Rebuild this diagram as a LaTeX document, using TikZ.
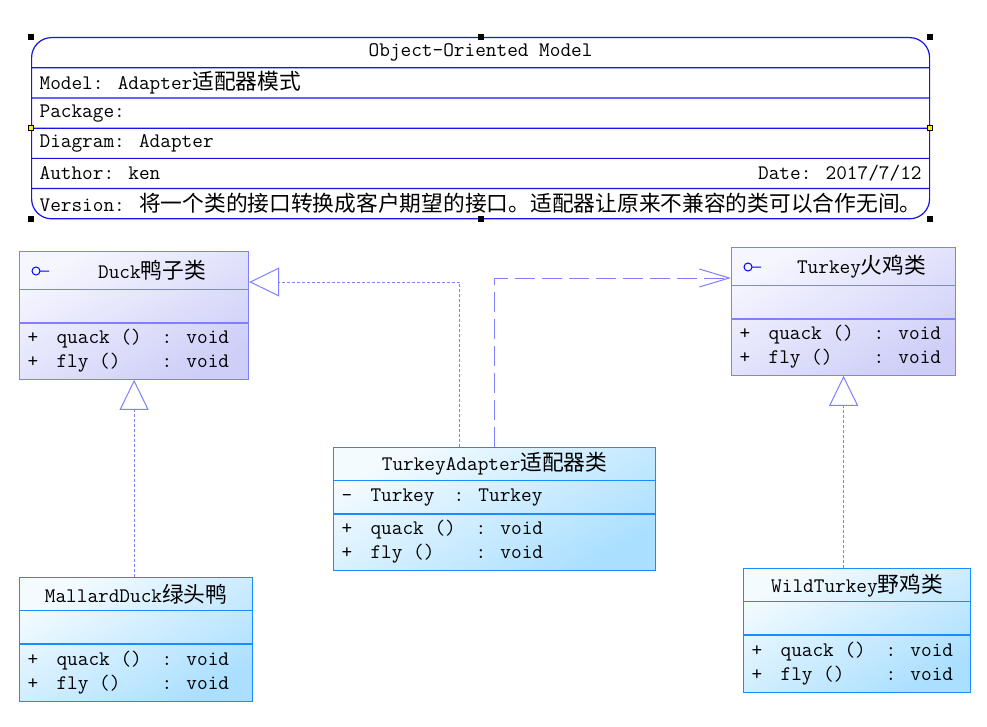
\documentclass[tikz,border=0pt]{standalone}
\usepackage{fontspec}
\newfontfamily\cjk[Scale=1.05]{Noto Sans CJK SC}
\usetikzlibrary{arrows.meta,shapes.multipart}

\definecolor{modelline}{RGB}{20,20,235}
\definecolor{ifaceline}{RGB}{128,128,255}
\definecolor{ifacetop}{RGB}{246,246,255}
\definecolor{ifacebot}{RGB}{206,206,248}
\definecolor{implline}{RGB}{25,140,255}
\definecolor{impltop}{RGB}{244,251,255}
\definecolor{implbot}{RGB}{170,223,255}

\newcommand{\zh}[1]{{\cjk #1}}
\newcommand{\boxrow}[3]{\parbox[c][#2pt][c]{#1pt}{#3}}
\newcommand{\op}[1]{\makebox[29pt][l]{+}\makebox[105pt][l]{#1 ()}: void}

\begin{document}
\begin{tikzpicture}[x=1pt, y=-1pt, font=\ttfamily\fontsize{20.7}{24}\selectfont,
        umlclass/.style={rectangle split, rectangle split parts=3, line width=1.2pt, inner xsep=8pt, inner ysep=0pt, anchor=north west},
        iface/.style={umlclass, draw=ifaceline, top color=ifacetop, bottom color=ifacebot, shading angle=30},
        impl/.style={umlclass, draw=implline, top color=impltop, bottom color=implbot, shading angle=30},
        modelbox/.style={rectangle split, rectangle split parts=6, draw=modelline, line width=1.2pt, rounded corners=20pt, inner xsep=8pt, inner ysep=0pt, anchor=north west},
        icon/.style={draw=blue, line width=1pt},
        realize/.style={draw=ifaceline, line width=1pt, dash pattern=on 3pt off 2pt, -{Triangle[open, length=30pt, width=29pt, line width=1pt]}},
        depend/.style={draw=ifaceline, line width=1pt, dash pattern=on 20pt off 7pt, -{Straight Barb[length=30pt, width=18pt, line width=1pt]}}]

    \useasboundingbox (0,0) rectangle (987,727);

    % model header
    \node [modelbox] (model) at (31,37) {
        \nodepart{one} \boxrow{882}{29}{\centering Object-Oriented Model}
        \nodepart{two} \boxrow{882}{29}{Model: Adapter\zh{适配器模式}}
        \nodepart{three} \boxrow{882}{29}{Package:}
        \nodepart{four} \boxrow{882}{29}{Diagram: Adapter}
        \nodepart{five} \boxrow{882}{29}{Author: ken\hfill Date: 2017/7/12}
        \nodepart{six} \boxrow{882}{29}{Version: \zh{将一个类的接口转换成客户期望的接口。适配器让原来不兼容的类可以合作无间。}}
    };
    \foreach \a in {north west, north, north east, south west, south, south east}
        \fill ([shift={(-3pt,-3pt)}]model.\a) rectangle ++(6pt,6pt);
    \foreach \a in {west, east}
        \filldraw [fill=yellow, draw=black, line width=1pt] ([shift={(-2.5pt,-2.5pt)}]model.\a) rectangle ++(5pt,5pt);

    % interfaces
    \node [iface] (duck) at (19,251) {
        \nodepart{one} \boxrow{213}{37}{\hspace*{36pt}\makebox[177pt]{Duck\zh{鸭子类}}}
        \nodepart{two} \boxrow{213}{32}{}
        \nodepart{three} \boxrow{213}{55}{\op{quack}\\\op{fly}}
    };
    \draw [icon] ([xshift=17pt,yshift=-20pt]duck.north west) circle (4pt) ++(4pt,0pt) -- ++(9pt,0pt);

    \node [iface] (turkey) at (731,247) {
        \nodepart{one} \boxrow{208}{37}{\hspace*{36pt}\makebox[172pt]{Turkey\zh{火鸡类}}}
        \nodepart{two} \boxrow{208}{32}{}
        \nodepart{three} \boxrow{208}{55}{\op{quack}\\\op{fly}}
    };
    \draw [icon] ([xshift=17pt,yshift=-20pt]turkey.north west) circle (4pt) ++(4pt,0pt) -- ++(9pt,0pt);

    % classes
    \node [impl] (adapter) at (333,447) {
        \nodepart{one} \boxrow{306}{32}{\centering TurkeyAdapter\zh{适配器类}}
        \nodepart{two} \boxrow{306}{32}{\makebox[29pt][l]{-}\makebox[83pt][l]{Turkey}: Turkey}
        \nodepart{three} \boxrow{306}{55}{\op{quack}\\\op{fly}}
    };

    \node [impl] (mallard) at (19,577) {
        \nodepart{one} \boxrow{217}{32}{\centering MallardDuck\zh{绿头鸭}}
        \nodepart{two} \boxrow{217}{32}{}
        \nodepart{three} \boxrow{217}{56}{\op{quack}\\\op{fly}}
    };

    \node [impl] (wild) at (743,568) {
        \nodepart{one} \boxrow{211}{32}{\centering WildTurkey\zh{野鸡类}}
        \nodepart{two} \boxrow{211}{32}{}
        \nodepart{three} \boxrow{211}{56}{\op{quack}\\\op{fly}}
    };

    % relations
    \draw [realize] ([xshift=-35pt]adapter.north) |- ([yshift=-31pt]duck.north east);
    \draw [depend] (adapter.north) |- ([yshift=-31pt]turkey.north west);
    \draw [realize] (duck.south |- mallard.north) -- (duck.south);
    \draw [realize] (turkey.south |- wild.north) -- (turkey.south);
\end{tikzpicture}
\end{document}
